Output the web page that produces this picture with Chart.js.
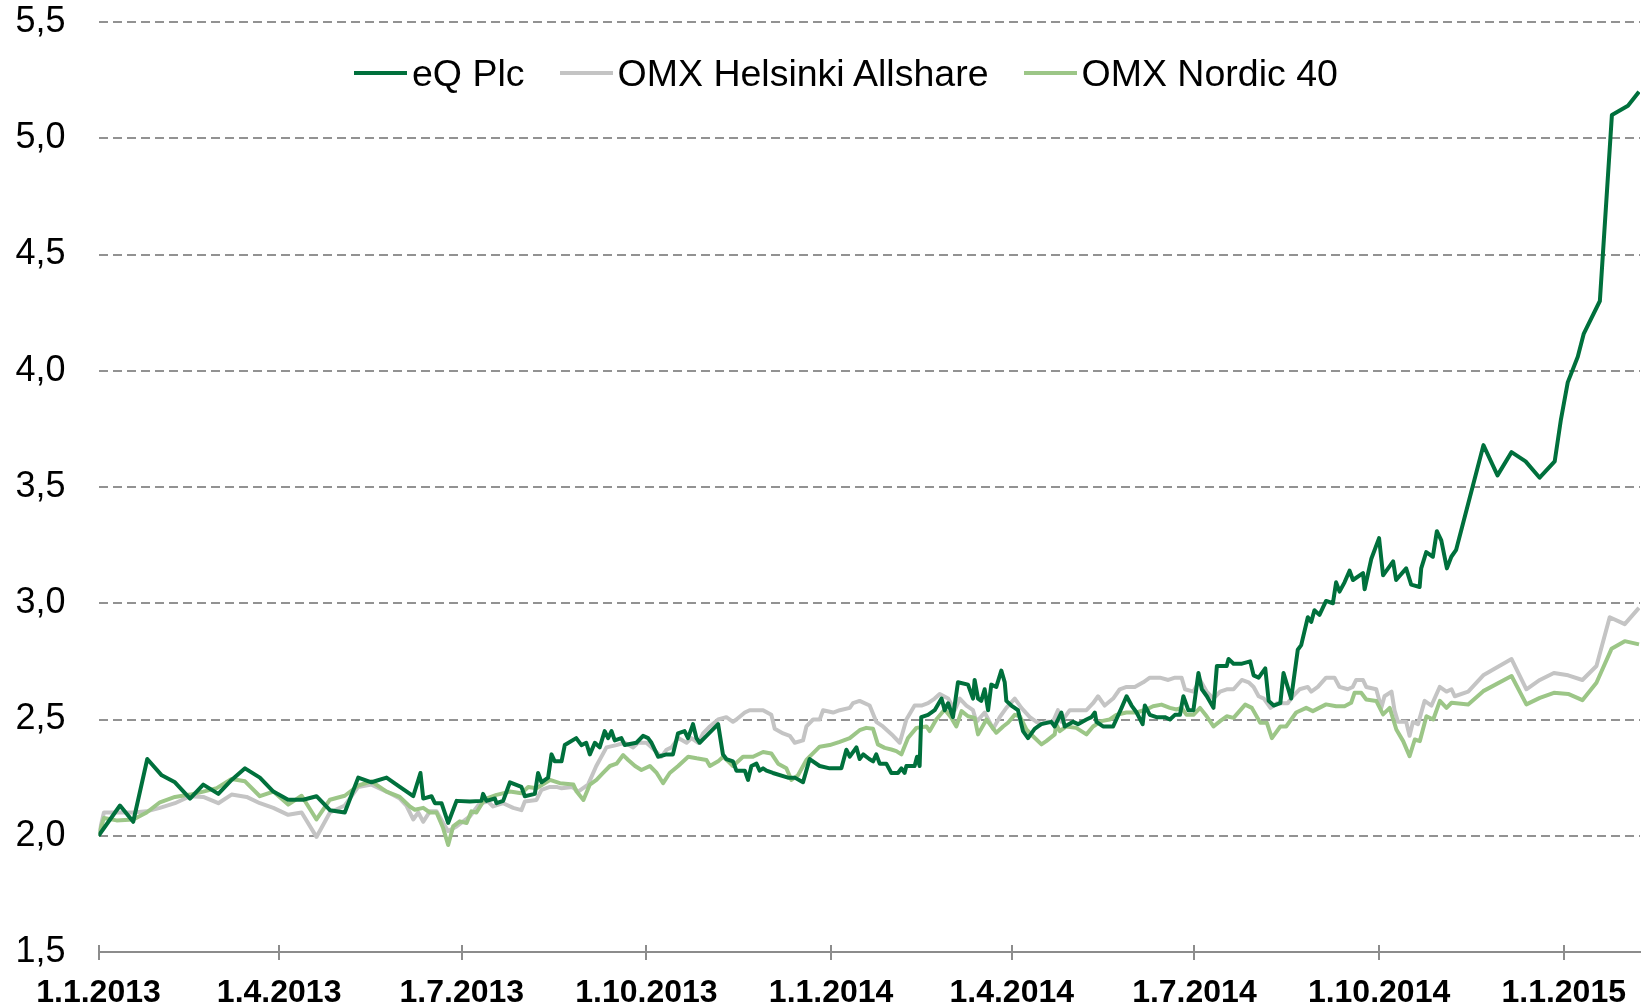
<!DOCTYPE html>
<html>
<head>
<meta charset="utf-8">
<script src="https://cdn.jsdelivr.net/npm/chart.js@4/dist/chart.umd.min.js"></script>
<style>
  html, body { margin: 0; padding: 0; background: #fff; }
  #wrap { position: relative; width: 1644px; height: 1007px; }
  #legend {
    position: absolute; left: 354px; top: 50px; height: 46px;
    display: flex; align-items: center;
    font-family: "Liberation Sans", Arial, sans-serif; font-size: 37.5px; color: #000;
    white-space: nowrap;
  }
  .item { display: flex; align-items: center; margin-right: 35px; }
  .swatch { width: 53px; height: 3.5px; margin-right: 5px; }
</style>
</head>
<body>
<div id="wrap">
  <canvas id="myChart" width="1644" height="1007"></canvas>
  <div id="legend"></div>
</div>
<script>
// x values are days from 1.1.2013
const tickDays = [0, 90, 181, 273, 365, 455, 546, 638, 730];
const tickLabels = ['1.1.2013', '1.4.2013', '1.7.2013', '1.10.2013', '1.1.2014', '1.4.2014', '1.7.2014', '1.10.2014', '1.1.2015'];
const seriesNames = ['eQ Plc', 'OMX Helsinki Allshare', 'OMX Nordic 40'];

const eqDays = [0,10.7,17.3,24.3,31.5,38.1,45.6,52.2,59.7,66.3,73,80.4,87.1,94.5,102,108.6,115.3,122.7,129.4,136,143.5,150.1,156.8,160.4,161.8,165.9,167.6,170.9,174.2,178.4,185,190.8,191.6,193.3,197.5,198.3,201.6,205,210.7,212.4,217.4,219,220.7,224,225.7,227.3,230.7,232.3,238,240.6,243,244.8,247.3,249.7,252.2,253.9,255.6,257.2,260.5,262.2,268,271.3,273.8,275.5,278.8,283,286.2,288.7,292,293.7,296.2,297.9,299.5,302.9,308.7,311.1,312.8,316.1,317.8,322,323.6,325.3,327.8,329.4,331.1,332.8,336,343.5,346.9,351,354.3,359.3,364.3,370.1,372.6,374.3,377.6,379.2,381,384,385.9,387.5,389.2,392.5,395,398.3,400,401.6,402.5,406.6,407.8,409.1,409.9,413.3,416.6,420,421.6,423.3,425.7,428.2,433.2,435.7,436.5,438.2,439.8,441.5,443.2,444.8,447.3,449.8,451.5,452.3,454.8,458.1,460.6,463.1,466.4,469.7,474.7,476.4,479.7,481.4,485.6,488,492.2,494.7,496.4,497.2,500.5,505.5,509.7,512.2,514.7,517.2,520.2,521.3,523.8,527.1,531.3,533.8,536.3,538.8,540.5,543,545.5,548,549.7,552.2,555.5,557.2,562.1,563,565.5,569.7,573.8,575.5,578,581.3,583,585.5,588.8,590.4,594.2,597.5,599.2,602.5,604.2,605.8,608.3,611.6,615,616.6,618.3,620.8,623.3,625,630,630.8,634.1,638,640,645,646.5,651.5,654,658.2,659,661.5,664.8,666.8,669,671.8,674,676.4,690,697,704,711,718,725.5,728.6,732,737,740,748,754,762,767.5];
const eqValues = [2.00,2.13,2.06,2.33,2.26,2.23,2.16,2.22,2.18,2.24,2.29,2.25,2.19,2.155,2.155,2.17,2.11,2.10,2.25,2.23,2.25,2.21,2.17,2.27,2.16,2.17,2.14,2.14,2.055,2.15,2.147,2.15,2.18,2.15,2.16,2.14,2.15,2.23,2.21,2.17,2.18,2.27,2.23,2.25,2.35,2.32,2.32,2.39,2.42,2.39,2.40,2.35,2.40,2.38,2.45,2.42,2.45,2.41,2.42,2.39,2.40,2.43,2.42,2.40,2.34,2.35,2.35,2.44,2.45,2.42,2.48,2.42,2.40,2.43,2.48,2.35,2.33,2.32,2.28,2.28,2.24,2.30,2.31,2.28,2.29,2.28,2.27,2.25,2.25,2.23,2.33,2.30,2.29,2.29,2.37,2.34,2.38,2.33,2.35,2.33,2.32,2.35,2.31,2.31,2.27,2.27,2.29,2.27,2.30,2.30,2.34,2.30,2.51,2.52,2.54,2.59,2.54,2.57,2.51,2.66,2.65,2.59,2.67,2.59,2.58,2.63,2.54,2.65,2.64,2.71,2.66,2.58,2.56,2.54,2.45,2.42,2.46,2.48,2.49,2.47,2.53,2.47,2.49,2.48,2.50,2.51,2.53,2.49,2.47,2.47,2.55,2.60,2.56,2.53,2.48,2.56,2.52,2.51,2.51,2.50,2.52,2.52,2.60,2.54,2.54,2.70,2.63,2.60,2.55,2.73,2.73,2.76,2.74,2.74,2.75,2.69,2.68,2.72,2.58,2.56,2.57,2.70,2.59,2.80,2.82,2.94,2.92,2.97,2.95,3.01,3.00,3.09,3.05,3.09,3.14,3.10,3.13,3.06,3.19,3.28,3.12,3.18,3.10,3.15,3.08,3.07,3.15,3.22,3.20,3.31,3.27,3.15,3.20,3.23,3.68,3.55,3.65,3.61,3.54,3.61,3.79,3.95,4.06,4.16,4.30,5.10,5.14,5.20];

const helDays = [0,2.7,9,17.3,24,30.6,38.1,45.6,52.2,59.7,66.3,73.8,80.4,87.1,94.5,101.2,108.6,115.3,122.7,129.4,136,143.5,150.1,153.4,156.8,159.3,161.8,165.1,168.4,171.7,174.2,178.4,185,190,194.1,196.6,201.6,206.6,210.7,212.4,218.2,220.7,224.9,228.2,230.7,236,239,243.9,248,253.1,258,262.2,266.4,268.8,273,275.5,280.5,283,285.5,288.8,293,295.4,298.8,301.2,304.6,308.7,312.8,316.1,317.8,322,324.4,331.1,335.2,336.9,341.1,344.4,346.9,351,352.7,356,359.3,361,366,369.3,374.3,375.9,379.2,384.2,387.5,390.8,395.9,399.2,402.5,406.6,410,413.3,416.6,419.1,423.3,426.6,429.1,432.4,435.7,437.4,441.5,445.7,449,452.3,456.5,459.8,464,467.3,469.7,472.2,475.5,478,479.7,483.9,488,492.2,495.5,498,501.3,505.5,508.8,512.2,516.3,520.5,523.8,528.8,533,536.3,539.6,541.3,545.5,548.8,552.1,555.5,558.8,562.1,565.5,569.6,573,575.5,578,580.6,583.9,587.2,592.5,595,598.4,602.5,604.2,607.5,611.6,615.8,618.3,622.4,624.9,626.6,630,631.6,636.6,639.1,640.7,644.2,645.7,647.4,651.5,653.2,654.9,657.4,660.7,664.1,668.2,671.6,674.1,675.7,682.4,689.9,704,711.4,718.1,725.1,732.2,739.3,746.3,752.9,760.4,767.5];
const helValues = [2.00,2.10,2.10,2.10,2.105,2.12,2.14,2.17,2.167,2.14,2.177,2.167,2.14,2.12,2.09,2.10,1.995,2.10,2.13,2.21,2.22,2.19,2.16,2.13,2.07,2.10,2.06,2.105,2.105,2.055,2.02,2.04,2.083,2.14,2.147,2.126,2.14,2.12,2.11,2.147,2.154,2.197,2.21,2.21,2.204,2.21,2.19,2.22,2.30,2.38,2.39,2.40,2.38,2.40,2.40,2.38,2.34,2.37,2.38,2.42,2.40,2.42,2.40,2.44,2.47,2.50,2.51,2.49,2.50,2.53,2.54,2.54,2.52,2.46,2.44,2.43,2.40,2.41,2.47,2.50,2.50,2.54,2.53,2.54,2.55,2.57,2.58,2.56,2.49,2.47,2.43,2.40,2.50,2.56,2.56,2.57,2.59,2.61,2.59,2.54,2.59,2.56,2.54,2.49,2.53,2.46,2.51,2.55,2.59,2.55,2.51,2.49,2.48,2.49,2.49,2.54,2.49,2.54,2.54,2.54,2.57,2.60,2.56,2.59,2.63,2.64,2.64,2.66,2.68,2.68,2.67,2.68,2.68,2.63,2.62,2.67,2.62,2.59,2.62,2.63,2.63,2.67,2.66,2.64,2.60,2.59,2.55,2.57,2.57,2.60,2.63,2.64,2.62,2.64,2.68,2.68,2.64,2.63,2.64,2.67,2.67,2.64,2.63,2.55,2.60,2.62,2.54,2.49,2.49,2.43,2.49,2.48,2.58,2.56,2.64,2.62,2.63,2.60,2.62,2.69,2.76,2.63,2.67,2.70,2.69,2.67,2.73,2.94,2.91,2.98];

const nordDays = [0,2.7,9,17.3,24,30.6,38.1,45.6,52.2,58.9,66.3,73,80.4,87.1,94.5,101.2,108.6,115.3,122.7,129.4,136,143.5,150.1,155.1,157.6,161.8,165.1,168.4,171.7,174.2,176.7,180,183.4,185.8,188.3,192.5,198.3,205,210.7,214.1,218.2,224.9,229.9,236.6,238.2,241.6,244.8,248.1,251.4,254.8,258.1,261.4,263.9,267.3,270.5,274.7,278.1,281.3,284.6,288.8,293.8,298,302.9,304.6,308.7,311.2,313.7,316.1,321.1,326.1,331.1,335.2,338.6,342.7,345.2,348.5,352.7,354.3,359.3,364.3,369.3,374.3,379.2,382.5,385.9,388.3,391.7,395,397.5,400,403.3,407.5,412.5,414.1,417.4,421.6,424.9,427.4,430,433.2,436.5,438.2,442.4,447.3,450.7,453.1,456.5,459,462.3,465.6,469.8,472.2,476.4,477.2,478.9,482.2,487.1,492.2,495.5,499.6,503.8,507.1,512.1,517.1,522.1,525.4,529.6,533.8,537.1,539.6,542.1,545.5,548.8,552.1,555.5,558.8,562.1,565.5,571.3,574.6,578.8,582.1,584.6,588.8,591.7,596.7,601.7,605,611.6,616.6,620.8,624.1,625.8,629.1,631.6,636.6,640,643.3,646.6,650,653.2,655.8,658.3,661.6,665,668.3,671.6,674.1,682.4,689.9,704,711.4,718.1,725.1,732.2,739.3,746.3,753.8,760.4,767.5];
const nordValues = [2.00,2.076,2.066,2.07,2.10,2.144,2.167,2.177,2.19,2.205,2.244,2.234,2.17,2.19,2.134,2.172,2.07,2.155,2.172,2.216,2.234,2.19,2.167,2.126,2.112,2.12,2.10,2.10,2.033,1.96,2.04,2.062,2.055,2.105,2.10,2.158,2.176,2.19,2.183,2.21,2.204,2.24,2.226,2.22,2.19,2.154,2.22,2.24,2.27,2.30,2.31,2.347,2.326,2.30,2.283,2.30,2.27,2.226,2.27,2.30,2.34,2.333,2.326,2.30,2.32,2.34,2.32,2.30,2.34,2.34,2.36,2.354,2.31,2.29,2.24,2.26,2.326,2.34,2.383,2.39,2.404,2.42,2.454,2.464,2.46,2.393,2.378,2.371,2.364,2.35,2.42,2.464,2.47,2.45,2.50,2.543,2.507,2.47,2.536,2.514,2.507,2.436,2.50,2.443,2.47,2.486,2.52,2.514,2.457,2.428,2.393,2.407,2.436,2.479,2.45,2.47,2.464,2.436,2.47,2.493,2.50,2.52,2.53,2.53,2.543,2.557,2.564,2.55,2.543,2.55,2.52,2.52,2.55,2.514,2.47,2.493,2.514,2.507,2.564,2.55,2.486,2.486,2.42,2.47,2.47,2.53,2.55,2.536,2.565,2.557,2.557,2.572,2.615,2.615,2.586,2.58,2.522,2.55,2.457,2.407,2.342,2.414,2.407,2.514,2.50,2.58,2.55,2.572,2.565,2.622,2.687,2.565,2.593,2.615,2.61,2.583,2.658,2.804,2.837,2.823];

const colors = ['#00703c', '#c4c4c4', '#9cc687'];
const fontName = '"Liberation Sans", Arial, sans-serif';

function toPoints(days, values) {
    return days.map((d, i) => ({ x: d, y: values[i] }));
}

// tick marks crossing the x axis line
const crossTicks = {
    id: 'crossTicks',
    afterDraw(chart) {
        const x = chart.scales.x;
        const ctx = chart.ctx;
        const y0 = chart.chartArea.bottom;
        ctx.save();
        ctx.strokeStyle = '#8c8c8c';
        ctx.lineWidth = 2;
        tickDays.forEach(d => {
            const px = Math.round(x.getPixelForValue(d));
            ctx.beginPath();
            ctx.moveTo(px, y0 - 7);
            ctx.lineTo(px, y0 + 8);
            ctx.stroke();
        });
        ctx.restore();
    }
};

const allSeries = [
    { days: eqDays, values: eqValues, order: 0 },
    { days: helDays, values: helValues, order: 2 },
    { days: nordDays, values: nordValues, order: 1 }
];

const ctx = document.getElementById('myChart');
const myChart = new Chart(ctx, {
    type: 'line',
    data: {
        datasets: allSeries.map((s, i) => ({
            label: seriesNames[i],
            data: toPoints(s.days, s.values),
            borderColor: colors[i],
            backgroundColor: colors[i],
            borderWidth: 4,
            pointRadius: 0,
            tension: 0,
            borderJoinStyle: 'round',
            order: s.order
        }))
    },
    options: {
        responsive: false,
        animation: false,
        layout: { padding: { top: 22, right: 4, left: 0, bottom: 0 } },
        plugins: {
            legend: { display: false },
            tooltip: { enabled: false }
        },
        scales: {
            x: {
                type: 'linear',
                min: 0,
                max: 768,
                grid: { display: false },
                border: { display: true, color: '#8c8c8c', width: 2 },
                afterBuildTicks: scale => {
                    scale.ticks = tickDays.map(v => ({ value: v }));
                },
                afterFit: scale => { scale.height = 55; },
                ticks: {
                    autoSkip: false,
                    maxRotation: 0,
                    padding: 14,
                    color: '#000',
                    font: { family: fontName, size: 32, weight: 'bold' },
                    callback: (v, i) => tickLabels[i]
                }
            },
            y: {
                min: 1.5,
                max: 5.5,
                afterFit: scale => {
                    scale.width = 98.5;
                    scale.paddingTop = 0;
                    scale.paddingBottom = 0;
                },
                grid: {
                    drawTicks: false,
                    lineWidth: 2,
                    color: c => c.tick.value === 1.5 ? 'rgba(0,0,0,0)' : '#929292'
                },
                border: { display: false, dash: [9, 5] },
                ticks: {
                    stepSize: 0.5,
                    padding: 33,
                    color: '#000',
                    font: { family: fontName, size: 36 },
                    callback: v => v.toFixed(1).replace('.', ',')
                }
            }
        }
    },
    plugins: [crossTicks]
});

// legend drawn as html on top of the plot area
const legend = document.getElementById('legend');
seriesNames.forEach((name, i) => {
    const item = document.createElement('div');
    item.className = 'item';
    const sw = document.createElement('span');
    sw.className = 'swatch';
    sw.style.background = colors[i];
    const txt = document.createElement('span');
    txt.textContent = name;
    item.appendChild(sw);
    item.appendChild(txt);
    legend.appendChild(item);
});
</script>
</body>
</html>
